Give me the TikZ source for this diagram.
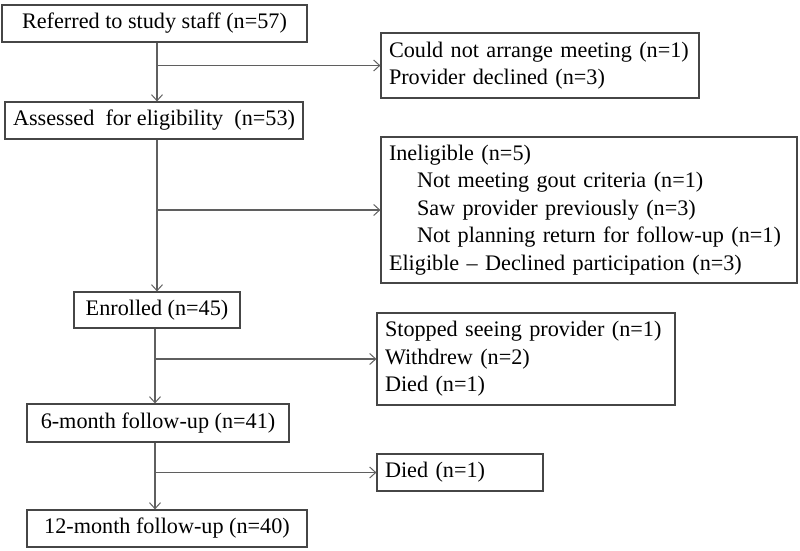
\documentclass[tikz,border=0pt]{standalone}
\usepackage{fontspec}
\setmainfont{Liberation Serif}
\usetikzlibrary{arrows.meta}
\definecolor{boxc}{RGB}{70,70,70}
\definecolor{linec}{RGB}{95,95,95}
\begin{document}
\begin{tikzpicture}[x=1pt,y=-1pt,
  every node/.style={font=\fontsize{22.2}{27.5}\selectfont},
  cbox/.style={draw=boxc, line width=1.2pt, inner sep=0pt, align=center},
  rbox/.style={draw=boxc, line width=1.2pt, inner xsep=8pt, inner ysep=0pt, align=left},
  arr/.style={draw=linec, line width=1.2pt, -{Straight Barb[length=6pt,width=11pt,line width=1pt]}},
  ln/.style={draw=linec, line width=1.2pt}]
\useasboundingbox (0,0) rectangle (800,551);
% left column
\node[cbox, minimum width=305pt, minimum height=37pt] (b1) at (154.5,23.5) {Referred to study staff (n=57)};
\node[cbox, minimum width=298pt, minimum height=37pt] (b2) at (154,120.5) {Assessed\ \ for eligibility\ \ (n=53)};
\node[cbox, minimum width=166pt, minimum height=36pt] (b3) at (157,310) {Enrolled (n=45)};
\node[cbox, minimum width=262pt, minimum height=38pt] (b4) at (158,423) {6-month follow-up (n=41)};
\node[cbox, minimum width=280pt, minimum height=37pt] (b5) at (167,528.5) {12-month follow-up (n=40)};
% right column
\node[rbox, text width=302pt, minimum height=65pt] (r1) at (540,65.5) {\mbox{Could not arrange meeting (n=1)}\\\mbox{Provider declined (n=3)}};
\node[rbox, text width=400pt, minimum height=146pt] (r2) at (589,210) {\mbox{Ineligible (n=5)}\\\mbox{\hspace*{28pt}Not meeting gout criteria (n=1)}\\\mbox{\hspace*{28pt}Saw provider previously (n=3)}\\\mbox{\hspace*{28pt}Not planning return for follow-up (n=1)}\\\mbox{Eligible -- Declined participation (n=3)}};
\node[rbox, text width=282pt, minimum height=92pt] (r3) at (526,359) {\mbox{Stopped seeing provider (n=1)}\\\mbox{Withdrew (n=2)}\\\mbox{Died (n=1)}};
\node[rbox, text width=150pt, minimum height=37pt] (r4) at (460,472.5) {\mbox{Died (n=1)}};
% connector x positions
\coordinate (xa) at (157,0);
\coordinate (xb) at (155,0);
% vertical arrows
\draw[arr] (xa |- b1.south) -- (xa |- b2.north);
\draw[arr] (xa |- b2.south) -- (xa |- b3.north);
\draw[arr] (xb |- b3.south) -- (xb |- b4.north);
\draw[arr] (xb |- b4.south) -- (xb |- b5.north);
% side arrows
\draw[arr] (xa |- r1.west) -- (r1.west);
\draw[arr] (xa |- r2.west) -- (r2.west);
\draw[arr] (xb |- r3.west) -- (r3.west);
\draw[arr] (xb |- r4.west) -- (r4.west);
\end{tikzpicture}
\end{document}
